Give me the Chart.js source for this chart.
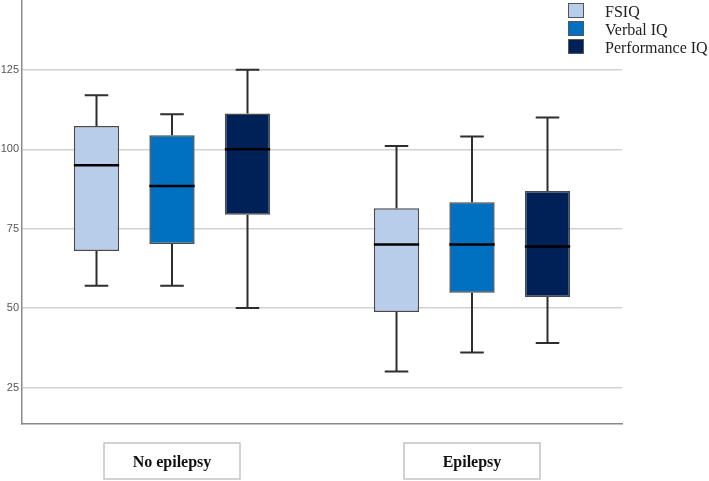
<!DOCTYPE html>
<html>
<head>
<meta charset="utf-8">
<script src="https://cdn.jsdelivr.net/npm/chart.js@4"></script>
<style>
  html, body { margin: 0; padding: 0; background: #fff; }
  #wrap { width: 709px; height: 481px; }
</style>
</head>
<body>
<div id="wrap"><canvas id="chart" width="709" height="481"></canvas></div>
<script>
// groups and y tick values
const groups = ['No epilepsy', 'Epilepsy'];
const yTicks = [25, 50, 75, 100, 125];
const seriesNames = ['FSIQ', 'Verbal IQ', 'Performance IQ'];
const seriesColors = ['#b8cdea', '#0070c0', '#002157'];

// box plot stats per series, one value per group
const fsiqMin = [57, 30];
const fsiqQ1 = [68, 48.8];
const fsiqMed = [95, 70];
const fsiqQ3 = [107.3, 81.4];
const fsiqMax = [117, 101];

const verbalMin = [57, 36];
const verbalQ1 = [70.2, 54.8];
const verbalMed = [88.4, 70];
const verbalQ3 = [104.4, 83.3];
const verbalMax = [111, 104];

const perfMin = [50, 39];
const perfQ1 = [79.4, 53.5];
const perfMed = [100, 69.4];
const perfQ3 = [111.3, 86.9];
const perfMax = [125, 110];

const stats = [
    { min: fsiqMin, q1: fsiqQ1, med: fsiqMed, q3: fsiqQ3, max: fsiqMax },
    { min: verbalMin, q1: verbalQ1, med: verbalMed, q3: verbalQ3, max: verbalMax },
    { min: perfMin, q1: perfQ1, med: perfMed, q3: perfQ3, max: perfMax }
];

const datasets = stats.map((s, i) => ({
    label: seriesNames[i],
    data: s.q1.map((q1, j) => [q1, s.q3[j]]),
    backgroundColor: seriesColors[i],
    borderColor: '#4a4a4a',
    borderWidth: 1.5,
    borderSkipped: false,
    barPercentage: 0.6,
    categoryPercentage: 0.755
}));

// whiskers, caps and medians
const whiskerPlugin = {
    id: 'whiskers',
    afterDatasetsDraw(chart) {
        const ctx = chart.ctx;
        const y = chart.scales.y;
        chart.data.datasets.forEach((ds, i) => {
            const meta = chart.getDatasetMeta(i);
            const s = stats[i];
            meta.data.forEach((bar, j) => {
                const x = bar.x;
                const w = bar.width;
                const cap = w * 0.26;
                ctx.save();
                ctx.strokeStyle = '#2e2e2e';
                ctx.lineWidth = 2;
                ctx.beginPath();
                ctx.moveTo(x, y.getPixelForValue(s.q3[j]));
                ctx.lineTo(x, y.getPixelForValue(s.max[j]));
                ctx.moveTo(x, y.getPixelForValue(s.q1[j]));
                ctx.lineTo(x, y.getPixelForValue(s.min[j]));
                ctx.moveTo(x - cap, y.getPixelForValue(s.max[j]));
                ctx.lineTo(x + cap, y.getPixelForValue(s.max[j]));
                ctx.moveTo(x - cap, y.getPixelForValue(s.min[j]));
                ctx.lineTo(x + cap, y.getPixelForValue(s.min[j]));
                ctx.stroke();
                ctx.strokeStyle = '#000';
                ctx.lineWidth = 2.5;
                ctx.beginPath();
                ctx.moveTo(x - w / 2, y.getPixelForValue(s.med[j]));
                ctx.lineTo(x + w / 2, y.getPixelForValue(s.med[j]));
                ctx.stroke();
                ctx.restore();
            });
        });
    },
    afterDraw(chart) {
        const ctx = chart.ctx;
        const xs = chart.scales.x;
        ctx.save();
        // frames round the group labels
        ctx.strokeStyle = '#c4c4c4';
        ctx.lineWidth = 1.5;
        groups.forEach((g, i) => {
            const cx = xs.getPixelForTick(i);
            ctx.strokeRect(cx - 68, xs.top + 19, 136, 36);
        });
        // legend
        ctx.font = '16px "Liberation Serif"';
        ctx.textBaseline = 'middle';
        seriesNames.forEach((name, i) => {
            const top = 3 + i * 18;
            ctx.fillStyle = seriesColors[i];
            ctx.fillRect(568, top, 16, 15);
            ctx.strokeStyle = '#555';
            ctx.lineWidth = 1;
            ctx.strokeRect(568.5, top + 0.5, 15, 14);
            ctx.fillStyle = '#222';
            ctx.fillText(name, 605, top + 10);
        });
        ctx.restore();
    }
};

new Chart(document.getElementById('chart'), {
    type: 'bar',
    data: { labels: groups, datasets },
    options: {
        responsive: false,
        animation: false,
        layout: { padding: { left: 0, right: 87, top: 0, bottom: 0 } },
        plugins: { legend: { display: false }, tooltip: { enabled: false } },
        scales: {
            x: {
                grid: { display: false },
                border: { color: '#8a8a8a', width: 1.5 },
                ticks: {
                    color: '#111',
                    font: { family: 'Liberation Serif', size: 16, weight: 'bold' },
                    padding: 21
                },
                afterFit(scale) { scale.height = 57; }
            },
            y: {
                min: 13.5,
                max: 147,
                afterBuildTicks(scale) { scale.ticks = yTicks.map(v => ({ value: v })); },
                grid: { color: '#d2d2d2', lineWidth: 1.5, drawTicks: false },
                border: { color: '#8a8a8a', width: 1.5 },
                ticks: {
                    color: '#555',
                    font: { family: 'Liberation Sans', size: 11 },
                    padding: 3
                },
                afterFit(scale) {
                    scale.width = 22;
                    scale.paddingTop = 0;
                    scale.paddingBottom = 0;
                }
            }
        }
    },
    plugins: [whiskerPlugin]
});
</script>
</body>
</html>
